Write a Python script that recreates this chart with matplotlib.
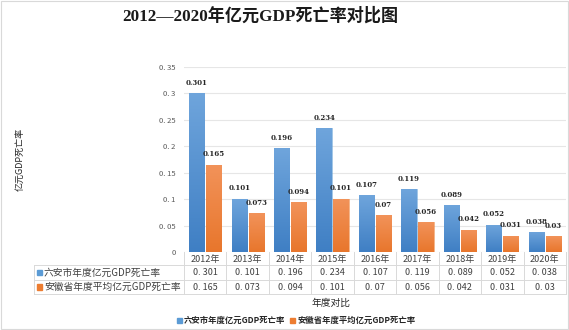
import matplotlib
matplotlib.use("Agg")
import matplotlib.pyplot as plt
import numpy as np
from matplotlib.patches import Rectangle
from matplotlib.colors import LinearSegmentedColormap

plt.rcParams['font.family'] = ['Noto Sans CJK SC', 'DejaVu Sans']

years = ['2012年', '2013年', '2014年', '2015年', '2016年', '2017年', '2018年', '2019年', '2020年']
luan = [0.301, 0.101, 0.196, 0.234, 0.107, 0.119, 0.089, 0.052, 0.038]
anhui = [0.165, 0.073, 0.094, 0.101, 0.07, 0.056, 0.042, 0.031, 0.03]
luan_lbl = ['0.301', '0.101', '0.196', '0.234', '0.107', '0.119', '0.089', '0.052', '0.038']
anhui_lbl = ['0.165', '0.073', '0.094', '0.101', '0.07', '0.056', '0.042', '0.031', '0.03']
series_names = ['六安市年度亿元GDP死亡率', '安徽省年度平均亿元GDP死亡率']
yticks = [0, 0.05, 0.1, 0.15, 0.2, 0.25, 0.3, 0.35]
ytick_lbls = ['0', '0. 05', '0. 1', '0. 15', '0. 2', '0. 25', '0. 3', '0. 35']

W, H = 569, 330
fig = plt.figure(figsize=(W/100, H/100), dpi=100)

def fx(px): return px / W
def fy(py): return 1 - py / H

ax_l, ax_r, ax_b, ax_t = 184, 566, 252, 67
ax = fig.add_axes([fx(ax_l), fy(ax_b), fx(ax_r - ax_l), fy(ax_t) - fy(ax_b)])
ax.set_xlim(0, len(years))
ax.set_ylim(0, 0.35)
for s in ax.spines.values():
    s.set_visible(False)
ax.set_yticks(yticks)
ax.set_yticklabels(ytick_lbls, fontsize=5.5, color='#595959')
ax.tick_params(axis='y', length=0, pad=6)
ax.set_xticks([])
ax.grid(axis='y', color='#e6e6e6', linewidth=0.8)
ax.set_axisbelow(True)

blue_cmap = LinearSegmentedColormap.from_list('b', ['#3f7fc4', '#6fa5dc'])
orange_cmap = LinearSegmentedColormap.from_list('o', ['#e8762c', '#f2935a'])
grad = np.linspace(0, 1, 256).reshape(-1, 1)

bw = 0.36
x = np.arange(len(years)) + 0.5
def draw_bars(xs, vals, cmap, edge):
    for xi, v in zip(xs, vals):
        r = Rectangle((xi - bw/2, 0), bw, v, facecolor='none', edgecolor=edge, linewidth=0.4)
        ax.add_patch(r)
        im = ax.imshow(grad, cmap=cmap, origin='lower', aspect='auto',
                       extent=[xi - bw/2, xi + bw/2, 0, v], zorder=2)
        im.set_clip_path(r)
draw_bars(x - 0.2, luan, blue_cmap, '#5b9bd5')
draw_bars(x + 0.2, anhui, orange_cmap, '#ed7d31')
ax.set_xlim(0, len(years))
ax.set_ylim(0, 0.35)

for xi, v, l in zip(x - 0.2, luan, luan_lbl):
    ax.text(xi, v + 0.012, l, ha='center', va='bottom', fontsize=5, fontweight='bold',
            family=['DejaVu Serif'], color='#262626')
for xi, v, l in zip(x + 0.2, anhui, anhui_lbl):
    ax.text(xi, v + 0.012, l, ha='center', va='bottom', fontsize=5, fontweight='bold',
            family=['DejaVu Serif'], color='#262626')

# table
line_c = '#d9d9d9'
tbl_left = 34
col_w = (ax_r - ax_l) / len(years)
y_top, y1, y2, y3 = 252, 265, 280, 294
def hline(py, x0, x1):
    fig.add_artist(plt.Line2D([fx(x0), fx(x1)], [fy(py), fy(py)], color=line_c, linewidth=0.7))
def vline(px, p0, p1):
    fig.add_artist(plt.Line2D([fx(px), fx(px)], [fy(p0), fy(p1)], color=line_c, linewidth=0.7))
hline(y1, tbl_left, ax_r)
hline(y2, tbl_left, ax_r)
hline(y3, tbl_left, ax_r)
vline(tbl_left, y1, y3)
for i in range(len(years) + 1):
    vline(ax_l + i * col_w, y_top, y3)
txt_c = '#404040'
for i, yr in enumerate(years):
    cx = ax_l + (i + 0.5) * col_w
    fig.text(fx(cx), fy((y_top + y1) / 2 + 1), yr, ha='center', va='center', fontsize=6.5, color=txt_c)
    fig.text(fx(cx), fy((y1 + y2) / 2), luan_lbl[i].replace('.', '. '), ha='center', va='center', fontsize=6.5, color=txt_c)
    fig.text(fx(cx), fy((y2 + y3) / 2), anhui_lbl[i].replace('.', '. '), ha='center', va='center', fontsize=6.5, color=txt_c)
for (py0, py1), name, c in zip([(y1, y2), (y2, y3)], series_names, ['#5b9bd5', '#ed7d31']):
    cy = (py0 + py1) / 2
    fig.add_artist(Rectangle((fx(37), fy(cy + 2.5)), fx(5), fy(cy - 2.5) - fy(cy + 2.5), color=c))
    fig.text(fx(44), fy(cy), name, ha='left', va='center', fontsize=7.0, color=txt_c)

# axis titles
fig.text(fx(331), fy(303), '年度对比', ha='center', va='center', fontsize=7, color='#262626')
fig.text(fx(20), fy(159), '亿元GDP死亡率', ha='center', va='center', rotation=90, fontsize=6.5, color='#262626')

# legend
leg_y = 320
fig.add_artist(Rectangle((fx(177), fy(leg_y + 2.5)), fx(5), fy(leg_y - 2.5) - fy(leg_y + 2.5), color='#5b9bd5'))
fig.text(fx(184), fy(leg_y), series_names[0], ha='left', va='center', fontsize=6, fontweight='bold', color='#262626')
fig.add_artist(Rectangle((fx(290), fy(leg_y + 2.5)), fx(5), fy(leg_y - 2.5) - fy(leg_y + 2.5), color='#ed7d31'))
fig.text(fx(297), fy(leg_y), series_names[1], ha='left', va='center', fontsize=6, fontweight='bold', color='#262626')

# title
fig.text(fx(260), fy(16), '2012—2020年亿元GDP死亡率对比图', ha='center', va='center', fontsize=12.3,
         fontweight='bold', family=['Liberation Serif', 'Noto Sans CJK SC'], color='#1a1a1a')

# outer border
fig.add_artist(Rectangle((0.001, 0.002), 0.997, 0.995, fill=False, edgecolor='#d9d9d9', linewidth=0.8))

fig.savefig('out.png', dpi=100, facecolor='white')
